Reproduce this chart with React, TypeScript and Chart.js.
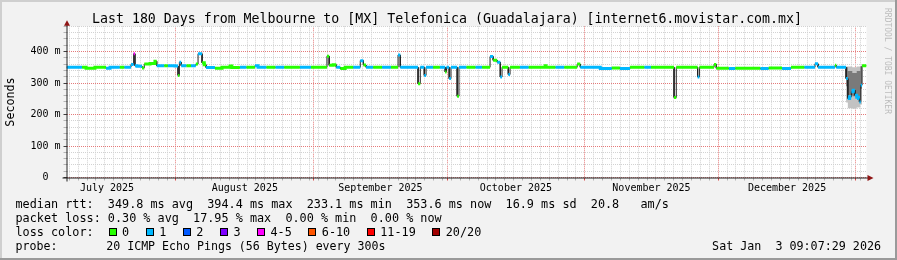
import React, { useEffect, useRef } from 'react';
import { Chart, registerables } from 'chart.js';

Chart.register(...registerables);

// ---------- text ----------
const TITLE = 'Last 180 Days from Melbourne to [MX] Telefonica (Guadalajara) [internet6.movistar.com.mx]';
const Y_TITLE = 'Seconds';
const LEGEND_RTT = 'median rtt:  349.8 ms avg  394.4 ms max  233.1 ms min  353.6 ms now  16.9 ms sd  20.8   am/s';
const LEGEND_LOSS = 'packet loss: 0.30 % avg  17.95 % max  0.00 % min  0.00 % now';
const LEGEND_LOSS_COLOR = 'loss color:';
const LEGEND_PROBE = 'probe:       20 ICMP Echo Pings (56 Bytes) every 300s';
const STAMP = 'Sat Jan  3 09:07:29 2026';
const CREDIT = 'RRDTOOL / TOBI OETIKER';

// ---------- axes ----------
const SPAN_DAYS = 180; // days since start of graph
const monthLabels = ['July 2025', 'August 2025', 'September 2025', 'October 2025', 'November 2025', 'December 2025'];
const monthLabelDays = [9.12, 40.12, 70.62, 101.12, 131.62, 162.12];
const monthStartDays = [24.62, 55.62, 85.62, 116.62, 146.62, 177.62];
const minorGridFirstDay = 0.62;
const minorGridStepDays = 2;
const Y_MAX = 480;
const Y_MINOR_STEP = 20;
const Y_MAJOR_STEP = 100;

// ---------- median rtt (ms) by segment, and lost pings (of 20) ----------
const segStart = [
  0, 3.5, 4.4, 6.4, 8.9, 9.8, 12.0, 13.0, 14.5, 15.1,
  15.4, 15.9, 17.0, 17.5, 18.8, 19.9, 20.3, 22.0, 22.8, 24.4,
  25.1, 25.4, 25.8, 27.0, 28.0, 29.1, 29.6, 30.5, 31.0, 31.4,
  33.4, 35.0, 36.8, 37.2, 39.0, 40.5, 42.4, 43.1, 45.0, 47.0,
  49.0, 52.5, 55.0, 58.6, 59.1, 60.0, 60.7, 61.6, 62.7, 64.5,
  66.1, 66.8, 67.4, 69.0, 71.0, 73.0, 74.6, 75.1, 79.1, 79.6,
  80.5, 80.9, 82.5, 84.0, 85.2, 85.5, 86.1, 86.5, 87.9, 88.3,
  90.0, 92.0, 93.5, 95.3, 96.0, 96.9, 97.6, 98.0, 99.4, 99.8,
  102.0, 104.0, 107.7, 107.9, 110.0, 112.0, 114.9, 115.6, 120.1, 122.7,
  124.5, 126.8, 130.0, 131.5, 136.7, 137.2, 142.0, 142.4, 145.7, 146.2,
  149.0, 150.5, 156.1, 158.0, 161.0, 163.0, 166.0, 168.4, 169.1, 172.9,
  173.2, 175.4, 175.8, 176.2, 176.6, 177.0, 177.4, 177.8, 178.2, 178.4,
  178.7, 179.0,
];
const segMedian = [
  350, 350, 347, 350, 347, 350, 350, 350, 359, 393,
  355, 353, 348, 360, 362, 369, 355, 355, 355, 354,
  324, 366, 355, 355, 355, 360, 393, 364, 358, 349,
  347, 350, 354, 349, 350, 350, 355, 350, 350, 350,
  350, 350, 350, 385, 356, 358, 350, 346, 350, 350,
  371, 357, 350, 350, 350, 350, 389, 350, 298, 350,
  324, 350, 350, 350, 335, 350, 314, 350, 258, 350,
  350, 350, 350, 384, 372, 366, 319, 350, 327, 350,
  350, 350, 355, 350, 350, 350, 360, 350, 346, 348,
  346, 350, 350, 350, 254, 350, 319, 350, 359, 347,
  346, 347, 346, 348, 346, 350, 350, 361, 350, 356,
  350, 314, 251, 256, 272, 277, 261, 255, 251, 240,
  293, 355,
];
const segLoss = [
  1, 0, 0, 0, 1, 1, 0, 1, 1, 5,
  1, 1, 0, 0, 0, 0, 1, 0, 1, 1,
  0, 1, 1, 0, 1, 0, 1, 0, 0, 1,
  0, 0, 0, 0, 1, 0, 1, 1, 0, 1,
  0, 1, 0, 0, 0, 0, 1, 0, 0, 1,
  1, 0, 1, 0, 1, 0, 1, 1, 0, 1,
  1, 1, 0, 1, 0, 1, 1, 1, 0, 1,
  0, 1, 0, 1, 0, 1, 1, 0, 1, 0,
  1, 0, 0, 0, 1, 0, 0, 1, 1, 0,
  1, 0, 1, 0, 0, 0, 1, 0, 0, 0,
  1, 0, 1, 0, 1, 0, 1, 1, 1, 0,
  1, 1, 1, 1, 1, 1, 1, 1, 1, 1,
  1, 0,
];

// ---------- smoke (ping spread, ms) ----------
const smokeFrom = [175.4, 175.8, 176.8, 177.8, 178.6];
const smokeTo = [175.8, 176.8, 177.8, 178.6, 179.0];
const smokeMin = [238, 220, 218, 222, 232];
const smokeMax = [352, 352, 350, 352, 354];
const smokeLow = [290, 262, 258, 255, 282];
const smokeHigh = [350, 338, 332, 338, 352];
const SMOKE_BASE = 350;

// ---------- loss colours ----------
const lossLabels = ['0', '1', '2', '3', '4-5', '6-10', '11-19', '20/20'];
const lossBucketMax = [0, 1, 2, 3, 5, 10, 19, 20];
const lossColors = ['#26ff00', '#00b8ff', '#0059ff', '#7e00ff', '#ff00ff', '#ff5500', '#ff0000', '#a10000'];

const MONO = '"DejaVu Sans Mono", monospace';
const W = 897;
const H = 260;

const bucketOf = (loss: number) => {
  const i = lossBucketMax.findIndex((m) => loss <= m);
  return i < 0 ? lossBucketMax.length - 1 : i;
};
const key = (v: number) => Math.round(v * 100);

type Pt = { x: number; y: number | null };

export default function App() {
  const canvasRef = useRef<HTMLCanvasElement | null>(null);

  useEffect(() => {
    const canvas = canvasRef.current;
    if (!canvas) return;

    const segEnd = (i: number) => (i + 1 < segStart.length ? segStart[i + 1] : SPAN_DAYS);

    const medianPts: Pt[] = [];
    for (let i = 0; i < segStart.length; i++) {
      medianPts.push({ x: segStart[i], y: segMedian[i] }, { x: segEnd(i), y: segMedian[i] });
    }

    const bucketSets = lossColors.map((color, b) => {
      const pts: Pt[] = [];
      for (let i = 0; i < segStart.length; i++) {
        if (bucketOf(segLoss[i]) !== b) continue;
        const prevJoined =
          i > 0 && bucketOf(segLoss[i - 1]) === b && Math.abs(segMedian[i - 1] - segMedian[i]) < 8;
        if (!prevJoined && pts.length) pts.push({ x: segStart[i], y: null });
        pts.push({ x: segStart[i], y: segMedian[i] }, { x: segEnd(i), y: segMedian[i] });
      }
      return {
        label: `loss ${lossLabels[b]}`,
        data: pts,
        borderWidth: 3,
        borderColor: color,
        borderCapStyle: 'butt',
        pointRadius: 0,
        fill: false,
        spanGaps: false,
        order: 1,
      };
    });

    const band = (vals: number[]) => {
      const pts: Pt[] = [];
      for (let j = 0; j < smokeFrom.length; j++) {
        pts.push(
          { x: smokeFrom[j], y: SMOKE_BASE },
          { x: smokeFrom[j], y: vals[j] },
          { x: smokeTo[j], y: vals[j] },
          { x: smokeTo[j], y: SMOKE_BASE },
        );
      }
      return pts;
    };

    const majorSet = new Set(monthStartDays.map(key));
    const labelMap = new Map(monthLabelDays.map((d, i) => [key(d), monthLabels[i]]));
    const xVals = new Map<number, number>();
    for (let d = minorGridFirstDay; d <= SPAN_DAYS + 1e-9; d += minorGridStepDays) xVals.set(key(d), d);
    monthStartDays.forEach((d) => xVals.set(key(d), d));
    monthLabelDays.forEach((d) => xVals.set(key(d), d));
    const xTickValues = Array.from(xVals.values()).sort((a, b) => a - b);

    const transparent = 'rgba(0,0,0,0)';
    const minorGrid = '#d2d2d2';
    const majorGrid = '#e47a7a';

    const framePlugin = {
      id: 'rrdFrame',
      beforeDraw(chart: any) {
        const { ctx, chartArea: a } = chart;
        const w = chart.width;
        const h = chart.height;
        ctx.save();
        ctx.fillStyle = '#f2f2f2';
        ctx.fillRect(0, 0, w, h);
        ctx.fillStyle = '#cfcfcf';
        ctx.fillRect(0, 0, w, 2);
        ctx.fillRect(0, 0, 2, h);
        ctx.fillStyle = '#9a9a9a';
        ctx.fillRect(0, h - 2, w, 2);
        ctx.fillRect(w - 2, 0, 2, h);
        ctx.fillStyle = '#ffffff';
        ctx.fillRect(a.left, a.top, a.right - a.left, a.bottom - a.top);
        ctx.restore();
      },
      afterDraw(chart: any) {
        const { ctx, chartArea: a } = chart;
        const x0 = Math.round(a.left) + 0.5;
        const y0 = Math.round(a.bottom) + 0.5;
        ctx.save();
        ctx.strokeStyle = '#202020';
        ctx.lineWidth = 1;
        ctx.beginPath();
        ctx.moveTo(a.left - 4, y0 - 0.5);
        ctx.lineTo(a.right + 2, y0 - 0.5);
        ctx.moveTo(x0 - 0.5, a.bottom + 4);
        ctx.lineTo(x0 - 0.5, a.top - 2);
        ctx.stroke();
        ctx.fillStyle = '#8f1515';
        ctx.beginPath();
        ctx.moveTo(a.right + 1, y0 - 3.5);
        ctx.lineTo(a.right + 7, y0 - 0.5);
        ctx.lineTo(a.right + 1, y0 + 2.5);
        ctx.closePath();
        ctx.fill();
        ctx.beginPath();
        ctx.moveTo(x0 - 3.5, a.top - 0.5);
        ctx.lineTo(x0 - 0.5, a.top - 6);
        ctx.lineTo(x0 + 2.5, a.top - 0.5);
        ctx.closePath();
        ctx.fill();
        ctx.restore();
      },
    };

    const chart = new Chart(canvas, {
      type: 'line',
      data: {
        datasets: [
          ...bucketSets,
          {
            label: 'median',
            data: medianPts,
            borderWidth: 1,
            borderColor: '#202020',
            pointRadius: 0,
            fill: false,
            order: 2,
          },
          {
            label: 'smoke dense hi',
            data: band(smokeHigh),
            borderWidth: 0,
            borderColor: transparent,
            backgroundColor: '#7a7a7a',
            pointRadius: 0,
            fill: '+1',
            order: 4,
          },
          {
            label: 'smoke dense lo',
            data: band(smokeLow),
            borderWidth: 0,
            borderColor: transparent,
            pointRadius: 0,
            fill: false,
            order: 4,
          },
          {
            label: 'smoke max',
            data: band(smokeMax),
            borderWidth: 0,
            borderColor: transparent,
            backgroundColor: '#c2c2c2',
            pointRadius: 0,
            fill: '+1',
            order: 5,
          },
          {
            label: 'smoke min',
            data: band(smokeMin),
            borderWidth: 0,
            borderColor: transparent,
            pointRadius: 0,
            fill: false,
            order: 5,
          },
        ],
      },
      options: {
        animation: false,
        responsive: false,
        maintainAspectRatio: false,
        devicePixelRatio: 1,
        events: [],
        layout: { padding: { left: 0, right: 30.5, top: 26.3, bottom: 62.5 } },
        plugins: {
          legend: { display: false },
          tooltip: { enabled: false },
          title: { display: false },
        },
        elements: { point: { radius: 0 }, line: { tension: 0 } },
        scales: {
          x: {
            type: 'linear',
            min: 0,
            max: SPAN_DAYS,
            afterFit: (s: any) => {
              s.height = 20;
            },
            afterBuildTicks: (s: any) => {
              s.ticks = xTickValues.map((v) => ({ value: v }));
            },
            border: { display: false, dash: [1, 1] },
            grid: {
              display: true,
              drawOnChartArea: true,
              drawTicks: true,
              tickLength: 3,
              lineWidth: 1,
              color: (ctx: any) => {
                const k = key(ctx.tick?.value ?? -1);
                if (majorSet.has(k)) return majorGrid;
                if (labelMap.has(k)) return transparent;
                return minorGrid;
              },
              tickColor: (ctx: any) => {
                const k = key(ctx.tick?.value ?? -1);
                if (majorSet.has(k)) return '#d84a4a';
                if (labelMap.has(k)) return transparent;
                return '#b4b4b4';
              },
            },
            ticks: {
              autoSkip: false,
              maxRotation: 0,
              minRotation: 0,
              padding: 2,
              color: '#000000',
              font: { family: "'DejaVu Sans Mono'", size: 10 },
              callback: (v: any) => labelMap.get(key(Number(v))) ?? '',
            },
          },
          y: {
            type: 'linear',
            min: 0,
            max: Y_MAX,
            afterFit: (s: any) => {
              s.width = 66.5;
            },
            border: { display: false, dash: [1, 1] },
            grid: {
              display: true,
              tickLength: 3,
              lineWidth: 1,
              color: (ctx: any) => {
                const v = ctx.tick?.value ?? 0;
                return v % Y_MAJOR_STEP === 0 ? majorGrid : minorGrid;
              },
              tickColor: (ctx: any) => {
                const v = ctx.tick?.value ?? 0;
                return v % Y_MAJOR_STEP === 0 ? '#404040' : '#b4b4b4';
              },
            },
            ticks: {
              stepSize: Y_MINOR_STEP,
              autoSkip: false,
              padding: 3,
              color: '#000000',
              font: { family: "'DejaVu Sans Mono'", size: 10 },
              callback: (v: any) => {
                const n = Number(v);
                if (n % Y_MAJOR_STEP !== 0) return '';
                return n === 0 ? '0  ' : `${n} m`;
              },
            },
          },
        },
      },
      plugins: [framePlugin],
    } as any);

    return () => {
      chart.destroy();
    };
  }, []);

  const charW = 11.8 * 0.602;
  const lossItems: { x: number; label: string; color: string }[] = [];
  let lx = 108.5;
  lossLabels.forEach((label, i) => {
    lossItems.push({ x: lx, label, color: lossColors[i] });
    lx += 13.6 + label.length * charW + 16.4;
  });

  const line = (top: number, size = 11.8): React.CSSProperties => ({
    position: 'absolute',
    left: 15.5,
    top,
    font: `${size}px/14px ${MONO}`,
    whiteSpace: 'pre',
    color: '#000',
  });

  return (
    <div style={{ position: 'absolute', left: 0, top: 0, width: W, height: H, overflow: 'hidden' }}>
      <canvas ref={canvasRef} width={W} height={H} style={{ position: 'absolute', left: 0, top: 0, width: W, height: H }} />
      <div
        style={{
          position: 'absolute',
          left: -1.5,
          top: 10.9,
          width: W,
          textAlign: 'center',
          font: `13.25px/16px ${MONO}`,
          whiteSpace: 'pre',
          color: '#000',
        }}
      >
        {TITLE}
      </div>
      <div
        style={{
          position: 'absolute',
          left: 10 - 40,
          top: 102 - 7,
          width: 80,
          height: 14,
          textAlign: 'center',
          font: `11.7px/14px ${MONO}`,
          transform: 'rotate(-90deg)',
          color: '#000',
        }}
      >
        {Y_TITLE}
      </div>
      <div
        style={{
          position: 'absolute',
          left: 882,
          top: 8,
          writingMode: 'vertical-rl',
          font: `8px/10px ${MONO}`,
          color: '#bdbdbd',
          whiteSpace: 'pre',
        }}
      >
        {CREDIT}
      </div>
      <div style={line(197.25)}>{LEGEND_RTT}</div>
      <div style={line(211.05)}>{LEGEND_LOSS}</div>
      <div style={line(224.85)}>{LEGEND_LOSS_COLOR}</div>
      {lossItems.map((it) => (
        <React.Fragment key={it.label}>
          <div
            style={{
              position: 'absolute',
              left: it.x,
              top: 228.2,
              width: 6,
              height: 6,
              border: '1px solid #000',
              background: it.color,
            }}
          />
          <div style={{ ...line(224.85), left: it.x + 13.6 }}>{it.label}</div>
        </React.Fragment>
      ))}
      <div style={line(238.65, 11.6)}>{LEGEND_PROBE}</div>
      <div
        style={{
          position: 'absolute',
          left: 0,
          width: 881,
          top: 238.65,
          textAlign: 'right',
          font: `11.7px/14px ${MONO}`,
          whiteSpace: 'pre',
          color: '#000',
        }}
      >
        {STAMP}
      </div>
    </div>
  );
}
